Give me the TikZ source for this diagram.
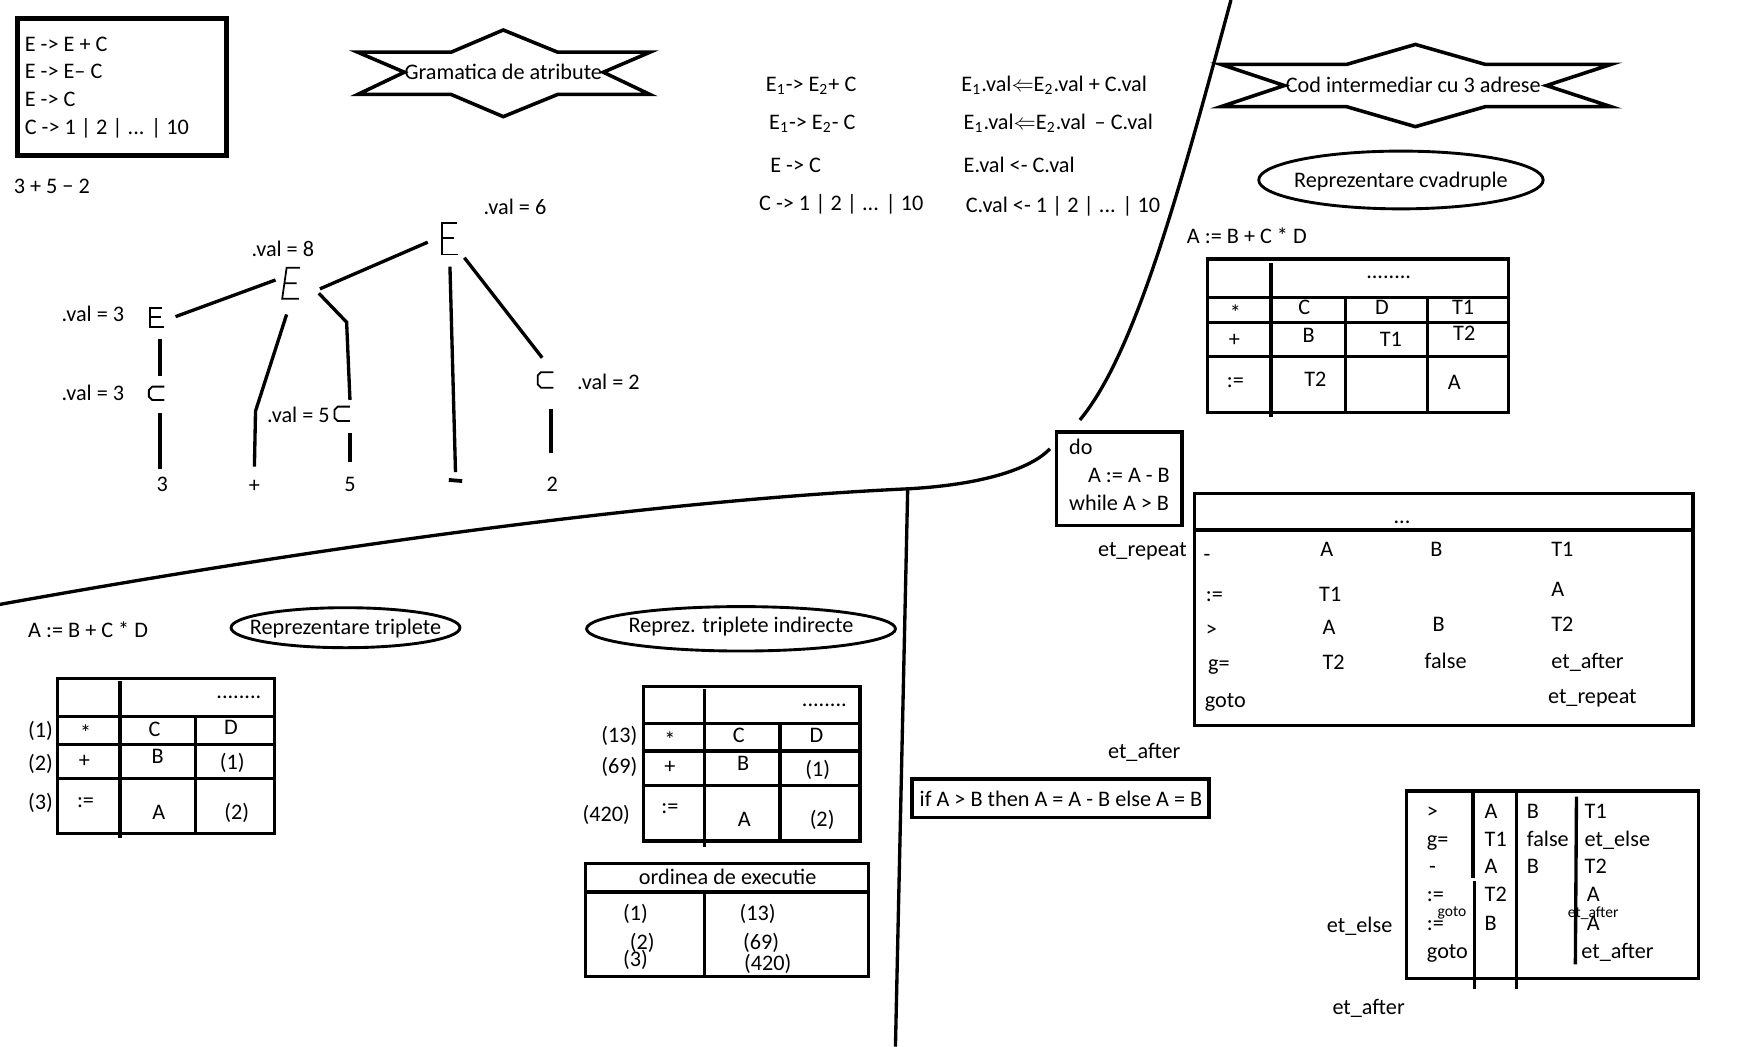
\documentclass[tikz,border=0pt]{standalone}
\usepackage{fontspec}
\setmainfont{Carlito}
\usetikzlibrary{shapes.geometric}
\begin{document}
\begin{tikzpicture}[x=0.5pt,y=-0.5pt,
  txt/.style={inner sep=0pt, anchor=west, text height=6.5pt, text depth=0pt, font=\fontsize{10}{12}\selectfont},
  ctxt/.style={txt, anchor=center},
  smalltxt/.style={inner sep=0pt, anchor=center, font=\fontsize{7}{8}\selectfont},
  boxline/.style={line width=2.2pt},
  midbox/.style={line width=1.6pt},
  ln/.style={line width=1.5pt},
  tb/.style={line width=1.5pt},
  glyph/.style={line width=0.8pt},
  starline/.style={line width=1.6pt, line join=miter},
  ell/.style={line width=1.3pt}
]
\useasboundingbox (0,0) rectangle (1568,942);

% ---------- top-left grammar box ----------
\draw[boxline] (16,17) rectangle (204,140);
\node[txt] (g1) at (22,40) {E -> E + C};
\node[txt] (g2) at (22,64) {E -> E– C};
\node[txt] (g3) at (22,89) {E -> C};
\node[txt] (g4) at (22,115) {C -> 1 | 2 | ... | 10};
\node[txt] (expr) at (12,168) {3 + 5 − 2};

% ---------- star: Gramatica de atribute ----------
\draw[starline] (322,47) -- (406,47) -- (453,27) -- (502,47) -- (585,47) -- (543,65) -- (585,85)
  -- (502,85) -- (453,105) -- (406,85) -- (322,85) -- (364,65) -- cycle;
\node[ctxt] (gram) at (453,65) {Gramatica de atribute};

% ---------- parse tree ----------
\draw[glyph] (411,201) -- (398,201) -- (398,229) -- (412,229) (398,214) -- (409,214);
\draw[glyph] (270,241) -- (258,241) -- (254,269) -- (269,269) (256,255) -- (267,255);
\draw[glyph] (146,277) -- (135,277) -- (135,294) -- (148,294) (135,285) -- (145,285);
\draw[glyph] (148,348) -- (137,348) -- (134,351) -- (134,357) -- (137,360) -- (148,360);
\draw[glyph] (315,366) -- (304,366) -- (301,369) -- (301,376) -- (304,379) -- (315,379);
\draw[glyph] (498,335) -- (487,335) -- (484,338) -- (484,346) -- (487,349) -- (498,349);

\node[txt] (v6) at (435,187) {.val = 6};
\node[txt] (v8) at (226,224) {.val = 8};
\node[txt] (v3a) at (55,283) {.val = 3};
\node[txt] (v3b) at (55,354) {.val = 3};
\node[txt] (v5) at (240,374) {.val = 5};
\node[txt] (v2) at (519,344) {.val = 2};

\draw[ln] (385,218) -- (288,260);
\draw[ln] (248,252) -- (158,285);
\draw[ln] (144,305) -- (144,338);
\draw[ln] (144,372) -- (144,422);
\draw[ln] (258,283) -- (230,370) -- (229,420);
\draw[ln] (287,264) -- (312,290) -- (315,360);
\draw[ln] (315,390) -- (315,416);
\draw[ln] (405,240) -- (410,425);
\draw[ln] (418,232) -- (488,322);
\draw[ln] (496,368) -- (496,408);

\node[ctxt] (l3) at (146,436) {3};
\node[ctxt] (lplus) at (229,437) {+};
\node[ctxt] (l5) at (315,436) {5};
\draw[line width=1.7pt] (404,432) -- (416,433);
\node[ctxt] (l2) at (497,436) {2};

% ---------- attribute rules ----------
\node[txt] (r1) at (689,76) {E\textsubscript{1}-> E\textsubscript{2}+ C};
\node[txt] (r2) at (692,110) {E\textsubscript{1}-> E\textsubscript{2}- C};
\node[txt] (r3) at (693,149) {E -> C};
\node[txt] (r4) at (683,183) {C -> 1 | 2 | ... | 10};
\node[txt] (a1) at (865,76) {E\textsubscript{1}.val$\Leftarrow$E\textsubscript{2}.val + C.val};
\node[txt] (a2) at (867,110) {E\textsubscript{1}.val$\Leftarrow$E\textsubscript{2}.val \,– C.val};
\node[txt] (a3) at (867,149) {E.val <- C.val};
\node[txt] (a4) at (869,185) {C.val <- 1 | 2 | ... | 10};

% ---------- separator lines ----------
\draw[ln] (1108,0) .. controls (1062,170) and (1022,318) .. (972,378);
\draw[ln] (0,544) .. controls (300,490) and (600,450) .. (817,440) .. controls (890,436) and (930,420) .. (945,404);
\draw[ln] (817,441) -- (806,942);

% ---------- star: Cod intermediar ----------
\draw[starline] (1099,58) -- (1212,58) -- (1274,40) -- (1337,58) -- (1450,58) -- (1392,77) -- (1450,96)
  -- (1337,96) -- (1274,114) -- (1212,96) -- (1099,96) -- (1156,77) -- cycle;
\node[ctxt] (cod) at (1272,77) {Cod intermediar cu 3 adrese};

\draw[ell] (1261,162) ellipse [x radius=128, y radius=26];
\node[ctxt] (cvad) at (1261,162) {Reprezentare cvadruple};
\node[txt] (qexpr) at (1068,213) {A := B + C * D};

% ---------- quadruple table ----------
\draw[tb] (1087,233) rectangle (1358,371);
\draw[tb] (1144,237) -- (1144,375);
\draw[tb] (1211,268) -- (1211,371);
\draw[tb] (1285,268) -- (1285,371);
\draw[tb] (1087,268) -- (1358,268);
\draw[tb] (1087,290) -- (1358,290);
\draw[tb] (1087,321) -- (1358,321);
\node[ctxt] (qd) at (1250,244) {........};
\node[ctxt] (q11) at (1112,282) {*};
\node[ctxt] (q12) at (1174,277) {C};
\node[ctxt] (q13) at (1244,277) {D};
\node[ctxt] (q14) at (1317,277) {T1};
\node[ctxt] (q21) at (1111,305) {+};
\node[ctxt] (q22) at (1178,302) {B};
\node[ctxt] (q23) at (1252,305) {T1};
\node[ctxt] (q24) at (1318,300) {T2};
\node[ctxt] (q31) at (1112,342) {:=};
\node[ctxt] (q32) at (1184,341) {T2};
\node[ctxt] (q34) at (1309,344) {A};

% ---------- do-while ----------
\draw[midbox] (951,389) rectangle (1064,473);
\node[txt] (dw1) at (962,403) {do};
\node[txt] (dw2) at (979,428) {A := A - B};
\node[txt] (dw3) at (962,453) {while A > B};
\node[txt] (etr) at (988,494) {et\_repeat};

\draw[tb] (1075,444) rectangle (1524,653);
\draw[tb] (1075,477) -- (1524,477);
\node[ctxt] (bd) at (1262,465) {...};
\node[txt] (b11) at (1083,499) {-};
\node[txt] (b12) at (1188,494) {A};
\node[txt] (b13) at (1287,494) {B};
\node[txt] (b14) at (1396,494) {T1};
\node[txt] (b21) at (1085,535) {:=};
\node[txt] (b22) at (1187,535) {T1};
\node[txt] (b24) at (1396,530) {A};
\node[txt] (b31) at (1085,566) {>};
\node[txt] (b32) at (1190,565) {A};
\node[txt] (b33) at (1289,562) {B};
\node[txt] (b34) at (1396,562) {T2};
\node[txt] (b41) at (1087,597) {g=};
\node[txt] (b42) at (1190,596) {T2};
\node[txt] (b43) at (1282,595) {false};
\node[txt] (b44) at (1396,595) {et\_after};
\node[txt] (b51) at (1084,630) {goto};
\node[txt] (b54) at (1393,627) {et\_repeat};

% ---------- if-then-else ----------
\node[txt] (eta1) at (997,676) {et\_after};
\draw[midbox] (821,701) rectangle (1088,736);
\node[ctxt] (ifb) at (955,719) {if A > B then A = A - B else A = B};

\draw[tb] (1266,712) rectangle (1529,881);
\draw[tb] (1326,714) -- (1326,790);
\draw[tb] (1327,793) -- (1327,890);
\draw[tb] (1365,714) -- (1365,890);
\draw[tb] (1419,717) -- (1418,868);
\node[txt] (c11) at (1284,730) {>};
\node[txt] (c21) at (1284,755) {g=};
\node[txt] (c31) at (1286,780) {-};
\node[txt] (c41) at (1284,805) {:=};
\node[txt] (c51) at (1284,831) {:=};
\node[smalltxt] (cg) at (1307,822) {goto};
\node[txt] (c61) at (1284,856) {goto};
\node[txt] (c12) at (1336,730) {A};
\node[txt] (c22) at (1336,755) {T1};
\node[txt] (c32) at (1336,780) {A};
\node[txt] (c42) at (1336,805) {T2};
\node[txt] (c52) at (1336,831) {B};
\node[txt] (c13) at (1374,730) {B};
\node[txt] (c23) at (1374,755) {false};
\node[txt] (c33) at (1374,780) {B};
\node[txt] (c14) at (1426,730) {T1};
\node[txt] (c24) at (1426,755) {et\_else};
\node[txt] (c34) at (1426,780) {T2};
\node[txt] (c44) at (1428,805) {A};
\node[txt] (c54) at (1428,831) {A};
\node[smalltxt] (cea) at (1434,822) {et\_after};
\node[txt] (c64) at (1423,856) {et\_after};
\node[txt] (ete) at (1194,833) {et\_else};
\node[txt] (eta2) at (1199,907) {et\_after};

% ---------- triplets ----------
\node[txt] (texpr) at (25,567) {A := B + C * D};
\draw[ell] (311,565) ellipse [x radius=103, y radius=18];
\node[ctxt] (trip) at (311,565) {Reprezentare triplete};
\draw[tb] (52,611) rectangle (247,750);
\draw[tb] (108,613) -- (108,754);
\draw[tb] (176,645) -- (176,750);
\draw[tb] (52,645) -- (247,645);
\draw[tb] (52,670) -- (247,670);
\draw[tb] (52,701) -- (247,701);
\node[ctxt] (td) at (215,622) {........};
\node[txt] (tl1) at (25,657) {(1)};
\node[txt] (tl2) at (25,687) {(2)};
\node[txt] (tl3) at (25,722) {(3)};
\node[ctxt] (t11) at (77,660) {*};
\node[ctxt] (t12) at (139,656) {C};
\node[ctxt] (t13) at (208,655) {D};
\node[ctxt] (t21) at (76,684) {+};
\node[ctxt] (t22) at (142,681) {B};
\node[ctxt] (t23) at (209,686) {(1)};
\node[ctxt] (t31) at (77,720) {:=};
\node[ctxt] (t32) at (143,731) {A};
\node[ctxt] (t33) at (213,731) {(2)};

% ---------- indirect triplets ----------
\draw[ell] (667,566) ellipse [x radius=139, y radius=20];
\node[ctxt] (ind) at (667,563) {Reprez. triplete indirecte};
\draw[tb] (579,618) rectangle (774,757);
\draw[tb] (634,620) -- (634,762);
\draw[tb] (702,651) -- (702,757);
\draw[tb] (579,651) -- (774,651);
\draw[tb] (579,676) -- (774,676);
\draw[tb] (579,707) -- (774,707);
\node[ctxt] (id) at (742,629) {........};
\node[txt] (il1) at (541,662) {(13)};
\node[txt] (il2) at (541,690) {(69)};
\node[txt] (il3) at (524,733) {(420)};
\node[ctxt] (i11) at (603,666) {*};
\node[ctxt] (i12) at (665,662) {C};
\node[ctxt] (i13) at (735,662) {D};
\node[ctxt] (i21) at (603,690) {+};
\node[ctxt] (i22) at (669,687) {B};
\node[ctxt] (i23) at (736,692) {(1)};
\node[ctxt] (i31) at (603,726) {:=};
\node[ctxt] (i32) at (670,737) {A};
\node[ctxt] (i33) at (740,737) {(2)};

\draw[tb] (527,777) rectangle (782,879);
\draw[tb] (527,803) -- (782,803);
\draw[tb] (634,803) -- (634,879);
\node[ctxt] (ord) at (655,790) {ordinea de executie};
\node[ctxt] (o1) at (572,822) {(1)};
\node[ctxt] (o2) at (578,848) {(2)};
\node[ctxt] (o3) at (572,863) {(3)};
\node[ctxt] (o4) at (682,822) {(13)};
\node[ctxt] (o5) at (685,848) {(69)};
\node[ctxt] (o6) at (691,867) {(420)};
\end{tikzpicture}
\end{document}
